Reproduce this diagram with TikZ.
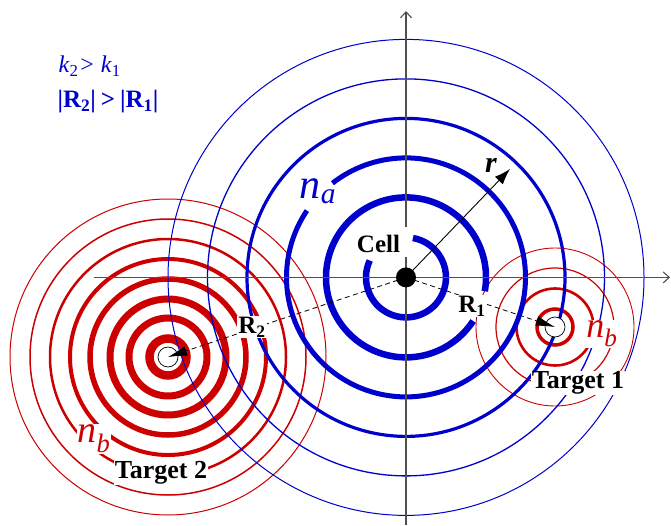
\documentclass[tikz,border=0pt]{standalone}
\usepackage{fontspec}
\setmainfont{Liberation Serif}
\usetikzlibrary{arrows.meta}
\definecolor{cblue}{RGB}{0,0,204}
\definecolor{cred}{RGB}{204,0,0}
\definecolor{caxis}{RGB}{80,80,80}
\begin{document}
\begin{tikzpicture}[x=1pt,y=1pt,
  axisline/.style={draw=caxis, line width=1.1pt},
  axistip/.style={-{Straight Barb[length=6pt,width=11pt]}},
  tgt/.style={circle, draw=black, line width=0.7pt, fill=white, minimum size=20pt, inner sep=0pt},
  celldot/.style={circle, fill=black, minimum size=20pt, inner sep=0pt},
  dashline/.style={draw=black, dash pattern=on 5pt off 3.5pt, line width=0.8pt, -{Latex[length=19pt,width=10pt]}},
  rline/.style={draw=black, line width=0.9pt, -{Latex[length=16pt,width=11pt]}},
  wlabel/.style={fill=white, inner sep=1pt},
  boldlbl/.style={font=\fontsize{26}{30}\selectfont\bfseries},
  rlbl/.style={font=\fontsize{25}{28}\selectfont\bfseries},
]
\useasboundingbox (0,0) rectangle (671,525);
\coordinate (C) at (406,247.6);
\coordinate (T1) at (555,198);
\coordinate (T2) at (168,168);

% red rings, target 2
\foreach \r/\w in {18.5/8.5, 39/7, 58/7, 78/5.5, 98/4, 118/2.5, 138/1.5, 158/1}
  \draw[cred, line width=\w] (T2) circle[radius=\r];
% red rings, target 1
\foreach \r/\w in {18/3.5, 38.5/2.6, 59/1.2, 79/0.9}
  \draw[cred, line width=\w] (T1) circle[radius=\r];

% blue rings around the cell
\draw[cblue, line width=6.5] ([shift={(155:40)}]C) arc[start angle=155, end angle=440, radius=40];
\draw[cblue, line width=6.5] ([shift={(-10:80)}]C) arc[start angle=-10, end angle=327, radius=80];
\draw[cblue, line width=5] ([shift={(146:119.5)}]C) arc[start angle=146, end angle=488, radius=119.5];
\draw[cblue, line width=3.2] (C) circle[radius=159];
\draw[cblue, line width=1.3] (C) circle[radius=198.5];
\draw[cblue, line width=1] (C) circle[radius=238];

% axes
\coordinate (ybot) at (406,0);
\coordinate (ygapA) at (406,268);
\coordinate (ygapB) at (406,298);
\coordinate (ytop) at (406,514);
\coordinate (xleft) at (94,247.6);
\coordinate (xright) at (670,247.6);
\draw[axisline] (ybot) -- (ygapA);
\draw[axisline, axistip] (ygapB) -- (ytop);
\draw[axisline, axistip] (xleft) -- (xright);

% targets
\node[tgt] (t1) at (T1) {};
\node[tgt] (t2) at (T2) {};

% connectors
\draw[dashline] (C) -- (t1.center);
\draw[dashline] (C) -- (t2.center);
\coordinate (rtip) at (510,356);
\node[celldot] (cell) at (C) {};
\draw[rline] (cell.center) -- (rtip);

% labels
\node[anchor=west, text=cblue, font=\fontsize{24}{28}\selectfont] (kk) at (55,459)
  {\textit{k}\textsubscript{2}\hspace{2pt}>\hspace{7pt}\textit{k}\textsubscript{1}};
\node[anchor=west, text=cblue, font=\fontsize{25}{28}\selectfont\bfseries] (rr) at (54,423)
  {|R\textsubscript{2}|\hspace{5pt}>\hspace{5pt}|R\textsubscript{1}|};
\node[font=\fontsize{25}{28}\selectfont\bfseries] (celllbl) at (378.5,281) {Cell};
\node[font=\fontsize{30}{32}\selectfont\bfseries\itshape] (rlab) at (491,360) {r};
\node[text=cblue, font=\fontsize{42}{46}\selectfont, inner sep=0pt] (na) at (318,334) {\textit{n}\textsubscript{\textit{a}}};
\node[rlbl, wlabel] (r1) at (472,219) {R\textsubscript{1}};
\node[rlbl, wlabel] (r2) at (252,198) {R\textsubscript{2}};
\node[text=cred, wlabel, inner sep=0.5pt, font=\fontsize{36}{40}\selectfont] (nb1) at (602,191) {\textit{n}\textsubscript{\textit{b}}};
\node[text=cred, wlabel, inner sep=0.5pt, font=\fontsize{38}{42}\selectfont] (nb2) at (94,86) {\textit{n}\textsubscript{\textit{b}}};
\node[boldlbl, wlabel] (tg1) at (578,142) {Target 1};
\node[boldlbl, wlabel] (tg2) at (161,52) {Target 2};
\end{tikzpicture}
\end{document}
